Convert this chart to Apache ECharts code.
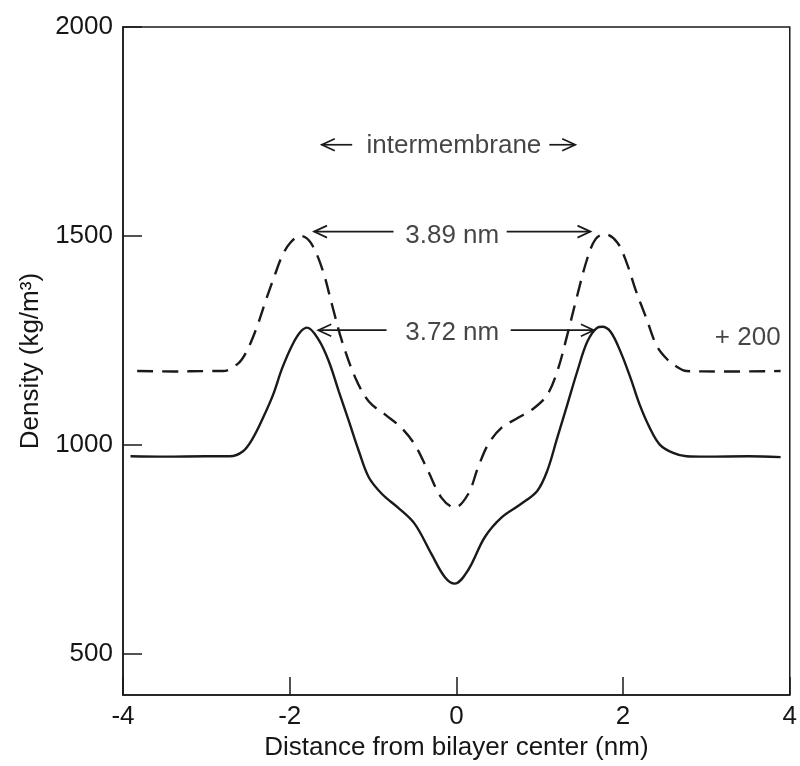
<!DOCTYPE html>
<html>
<head>
<meta charset="utf-8">
<script src="https://cdn.jsdelivr.net/npm/echarts@6/dist/echarts.min.js"></script>
<style>
  html, body { margin: 0; padding: 0; background: #fff; }
  #chart { width: 800px; height: 766px; }
</style>
</head>
<body>
<div id="chart"></div>
<script>
// Mass density across the bilayer (kg/m^3) vs distance from the bilayer center (nm)
const solidX = [-3.91, -3.5, -3.0, -2.72, -2.56, -2.44, -2.32, -2.20, -2.09, -1.97, -1.87, -1.79,
  -1.65, -1.53, -1.41, -1.29, -1.17, -1.05, -0.89, -0.70, -0.50, -0.30, -0.14, -0.02,
  0.14, 0.34, 0.54, 0.77, 0.97, 1.09, 1.21, 1.33, 1.45, 1.57, 1.69, 1.75,
  1.85, 1.97, 2.09, 2.20, 2.32, 2.44, 2.60, 2.76, 3.0, 3.5, 3.89];
const solidDensity = [972, 971, 972, 972, 984, 1016, 1064, 1119, 1183, 1238, 1270, 1280,
  1250, 1199, 1127, 1056, 984, 921, 881, 849, 810, 738, 683, 667,
  699, 778, 825, 857, 889, 937, 1016, 1095, 1175, 1246, 1280, 1282,
  1270, 1222, 1159, 1095, 1040, 1000, 980, 972, 971, 972, 970];

// Second profile, shifted up by 200 for clarity
const dashX = [-3.83, -3.4, -3.0, -2.80, -2.62, -2.52, -2.40, -2.28, -2.18, -2.09, -1.99, -1.87,
  -1.75, -1.61, -1.49, -1.37, -1.21, -1.05, -0.85, -0.66, -0.50, -0.34, -0.18, -0.02,
  0.14, 0.26, 0.38, 0.54, 0.74, 0.93, 1.09, 1.21, 1.33, 1.45, 1.57, 1.67, 1.78,
  1.93, 2.04, 2.16, 2.28, 2.40, 2.52, 2.64, 2.76, 3.2, 3.89];
const dashDensity = [1176, 1175, 1176, 1176, 1194, 1222, 1278, 1349, 1405, 1452, 1484, 1500,
  1484, 1421, 1333, 1246, 1159, 1103, 1071, 1040, 1000, 937, 873, 849,
  881, 945, 1000, 1040, 1064, 1087, 1119, 1175, 1262, 1357, 1445, 1492, 1504,
  1484, 1437, 1365, 1302, 1238, 1206, 1187, 1176, 1175, 1176];

const xTicks = [-4, -2, 0, 2, 4];
const yTicks = [500, 1000, 1500, 2000];

// Arrows: [tail x, head x, y] in data units
const arrows = [
  [-1.25, -1.615, 1718], [1.115, 1.426, 1718],
  [-0.754, -1.708, 1510], [0.604, 1.609, 1510],
  [-0.838, -1.657, 1274], [0.652, 1.650, 1274]
];
// Annotation texts: [x, y, text, align]
const notes = [
  [-0.03, 1716, 'intermembrane', 'center'],
  [-0.05, 1499, '3.89 nm', 'center'],
  [-0.05, 1268, '3.72 nm', 'center'],
  [3.89, 1255, '+ 200', 'right']
];

const FONT = "'Liberation Sans', Arial, Helvetica, sans-serif";
const INK = '#1a1a1a';
const TEXT = '#161616';

const zip = (xs, ys) => xs.map((x, i) => [x, ys[i]]);

const chart = echarts.init(document.getElementById('chart'));
chart.setOption({
  animation: false,
  backgroundColor: '#fff',
  grid: {
    left: 123, right: 6, top: 27, bottom: 68,
    show: true, borderColor: INK, borderWidth: 1.5, backgroundColor: 'transparent'
  },
  xAxis: {
    type: 'value', min: -4, max: 4, interval: 2,
    name: 'Distance from bilayer center (nm)',
    nameLocation: 'middle', nameGap: 36,
    nameTextStyle: { fontFamily: FONT, fontSize: 26, color: TEXT },
    axisLine: { show: true, onZero: false, lineStyle: { color: INK, width: 1.5 } },
    axisTick: { show: true, inside: true, length: 18, lineStyle: { color: INK, width: 1.5 } },
    axisLabel: { fontFamily: FONT, fontSize: 26, color: TEXT, margin: 9,
      customValues: xTicks },
    splitLine: { show: false }
  },
  yAxis: {
    type: 'value', min: 400, max: 2000,
    name: 'Density (kg/m³)',
    nameLocation: 'middle', nameGap: 77,
    nameTextStyle: { fontFamily: FONT, fontSize: 26, color: TEXT },
    axisLine: { show: true, onZero: false, lineStyle: { color: INK, width: 1.5 } },
    axisTick: { show: true, inside: true, length: 19, lineStyle: { color: INK, width: 1.5 },
      customValues: yTicks },
    axisLabel: { fontFamily: FONT, fontSize: 26, color: TEXT, margin: 10,
      customValues: yTicks, formatter: v => String(v) },
    splitLine: { show: false }
  },
  series: [
    {
      type: 'line', data: zip(solidX, solidDensity), smooth: 0.35,
      showSymbol: false, symbol: 'none',
      lineStyle: { color: INK, width: 2.4 }
    },
    {
      type: 'line', data: zip(dashX, dashDensity), smooth: 0.35,
      showSymbol: false, symbol: 'none',
      lineStyle: { color: INK, width: 2.4, type: [16, 9] }
    },
    {
      type: 'custom', silent: true,
      data: arrows,
      encode: { x: [0, 1], y: 2 },
      renderItem: function (params, api) {
        const tail = api.coord([api.value(0), api.value(2)]);
        const head = api.coord([api.value(1), api.value(2)]);
        const dir = head[0] > tail[0] ? 1 : -1;
        const len = 13, half = 6;
        return {
          type: 'group',
          children: [
            { type: 'line', shape: { x1: tail[0], y1: tail[1], x2: head[0], y2: head[1] },
              style: { stroke: INK, lineWidth: 1.7 } },
            { type: 'polyline', shape: { points: [
                [head[0] - dir * len, head[1] - half], [head[0], head[1]], [head[0] - dir * len, head[1] + half]] },
              style: { stroke: INK, lineWidth: 1.7, fill: null } }
          ]
        };
      }
    },
    {
      type: 'scatter', silent: true, symbolSize: 0,
      data: notes.map(n => ({
        value: [n[0], n[1]], name: n[2],
        label: { show: true, position: 'inside', align: n[3], formatter: '{b}',
          fontFamily: FONT, fontSize: 26, color: TEXT }
      }))
    }
  ]
});
</script>
</body>
</html>
